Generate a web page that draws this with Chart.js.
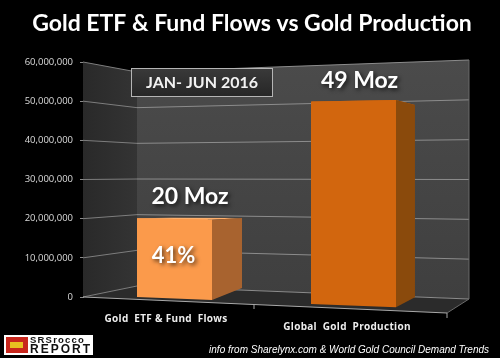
<!DOCTYPE html>
<html>
<head>
<meta charset="utf-8">
<script src="https://cdn.jsdelivr.net/npm/chart.js@4/dist/chart.umd.min.js"></script>
<style>
  html, body { margin: 0; padding: 0; background: #000; }
  canvas { display: block; }
</style>
</head>
<body>
<canvas id="goldChart" width="500" height="358"></canvas>
<script>
const categories = ['Gold  ETF & Fund  Flows', 'Global  Gold  Production'];
const ounces = [20000000, 49000000];
const barLabels = ['20 Moz', '49 Moz'];
const shareLabel = '41%';
const periodLabel = 'JAN- JUN 2016';
const chartTitle = 'Gold ETF & Fund Flows vs Gold Production';
const sourceNote = 'info from Sharelynx.com & World Gold Council Demand Trends';

const frontColors = ['#fb9a4b', '#d2660e'];
const sideColors = ['#a8632f', '#8a4a0c'];
const topColors = ['#ffb06c', '#c9630f'];
const barWidths = [75, 85];
const barShift = 2;

// the picture is a tilted 3D chart, these turn scale pixels into that view
const frontY = (x, f) => 297 + 0.04 * (x - 137) - f * (238.5 + (x - 174) * 0.069);
const rearY = (x, f) => 288 + (x - 242) * 0.0537 - f * (210 + (x - 242) * 0.147);
const depth = x => 30 - (x - 212) * 0.06;
const wallLeftY = f => 286 - f * 214;
const wallRightY = f => 299 - f * 239;

function poly(ctx, pts, fill) {
  ctx.beginPath();
  pts.forEach((p, i) => i ? ctx.lineTo(p[0], p[1]) : ctx.moveTo(p[0], p[1]));
  ctx.closePath();
  ctx.fillStyle = fill;
  ctx.fill();
}

function line(ctx, a, b, color, width) {
  ctx.beginPath();
  ctx.moveTo(a[0], a[1]);
  ctx.lineTo(b[0], b[1]);
  ctx.strokeStyle = color;
  ctx.lineWidth = width || 1;
  ctx.stroke();
}

function shadowText(ctx, text, x, y, font) {
  ctx.save();
  ctx.font = font;
  ctx.fillStyle = '#fff';
  ctx.textAlign = 'center';
  ctx.textBaseline = 'middle';
  ctx.shadowColor = 'rgba(0,0,0,0.7)';
  ctx.shadowBlur = 4;
  ctx.shadowOffsetX = 2;
  ctx.shadowOffsetY = 2;
  ctx.fillText(text, x, y);
  ctx.restore();
}

const wallsPlugin = {
  id: 'walls',
  beforeDatasetsDraw(chart) {
    const { ctx, scales: { y } } = chart;
    const span = y.bottom - y.top;
    const frac = v => (y.bottom - y.getPixelForValue(v)) / span;
    const left = y.right;

    ctx.save();
    const side = ctx.createLinearGradient(left, 0, 137, 0);
    side.addColorStop(0, '#292929');
    side.addColorStop(1, '#343434');
    poly(ctx, [[left, y.top], [137, wallLeftY(1)], [137, wallLeftY(0)], [left, y.bottom]], side);

    const back = ctx.createLinearGradient(0, 60, 0, 299);
    back.addColorStop(0, '#4b4b4b');
    back.addColorStop(1, '#3f3f3f');
    poly(ctx, [[137, wallLeftY(1)], [469, wallRightY(1)], [469, wallRightY(0)], [137, wallLeftY(0)]], back);

    poly(ctx, [[left, y.bottom], [137, wallLeftY(0)], [469, wallRightY(0)], [447, 313]], '#2b2b2b');

    y.ticks.forEach(t => {
      const f = frac(t.value);
      line(ctx, [left, y.getPixelForValue(t.value)], [137, wallLeftY(f)], '#7d7d7d');
      line(ctx, [137, wallLeftY(f)], [469, wallRightY(f)], '#8c8c8c');
    });
    line(ctx, [469, wallRightY(1)], [469, wallRightY(0)], '#6a6a6a');
    line(ctx, [469, wallRightY(0)], [447, 313], '#6a6a6a');
    line(ctx, [left, y.bottom], [447, 313], '#a8a8a8');
    line(ctx, [254, 305], [254, 309], '#a8a8a8');
    line(ctx, [447, 313], [447, 318], '#a8a8a8');
    ctx.restore();
  },
  afterDatasetsDraw(chart) {
    const { ctx, scales: { x, y } } = chart;
    const meta = chart.getDatasetMeta(0);
    const span = y.bottom - y.top;

    ctx.save();
    meta.data.forEach((bar, i) => {
      const f = (y.bottom - bar.y) / span;
      const xl = bar.x + barShift - barWidths[i] / 2;
      const xr = bar.x + barShift + barWidths[i] / 2;
      const xlBack = xl + depth(xl);
      const xrBack = xr + depth(xr);

      poly(ctx, [[xl, frontY(xl, f)], [xr, frontY(xr, f)], [xrBack, rearY(xrBack, f)], [xlBack, rearY(xlBack, f)]], topColors[i]);
      poly(ctx, [[xr, frontY(xr, f)], [xrBack, rearY(xrBack, f)], [xrBack, rearY(xrBack, 0)], [xr, frontY(xr, 0)]], sideColors[i]);
      poly(ctx, [[xl, frontY(xl, f)], [xr, frontY(xr, f)], [xr, frontY(xr, 0)], [xl, frontY(xl, 0)]], frontColors[i]);
    });

    // value captions sit above each box, the share inside the first one
    shadowText(ctx, barLabels[0], meta.data[0].x + 17.5, meta.data[0].y - 22, 'bold 23px Lato');
    shadowText(ctx, barLabels[1], meta.data[1].x + 8, meta.data[1].y - 25, 'bold 23px Lato');
    shadowText(ctx, shareLabel, meta.data[0].x + 1, 256, 'bold 22px Lato');

    // category names follow the tilted floor
    ctx.font = 'bold 10px "Open Sans"';
    ctx.fillStyle = '#eee';
    ctx.textAlign = 'center';
    ctx.textBaseline = 'middle';
    ctx.letterSpacing = '0.3px';
    ctx.fillText(categories[0], x.getPixelForValue(0) - 6.5, 319);
    ctx.fillText(categories[1], x.getPixelForValue(1) - 4.5, 327.5);
    ctx.letterSpacing = '0px';

    // period box
    const box = ctx.createLinearGradient(0, 68, 0, 97);
    box.addColorStop(0, '#3a3a3a');
    box.addColorStop(1, '#262626');
    ctx.fillStyle = box;
    ctx.fillRect(131.5, 68.5, 141, 28);
    ctx.strokeStyle = '#b5b5b5';
    ctx.lineWidth = 1;
    ctx.strokeRect(131.5, 68.5, 141, 28);
    ctx.font = 'bold 16px Lato';
    ctx.fillStyle = '#f2f2f2';
    ctx.fillText(periodLabel, 202, 83);

    // source note
    ctx.font = 'italic 10px "Liberation Sans"';
    ctx.fillStyle = '#fff';
    ctx.textAlign = 'right';
    ctx.fillText(sourceNote, 489, 350);

    // logo
    ctx.fillStyle = '#fff';
    ctx.fillRect(4, 335, 89, 20);
    ctx.fillStyle = '#c8261c';
    ctx.fillRect(6, 337, 22, 16);
    ctx.fillStyle = '#e8c020';
    ctx.fillRect(10, 342, 13, 6);
    ctx.fillStyle = '#111';
    ctx.textAlign = 'left';
    ctx.font = 'bold 9.5px "Liberation Sans"';
    ctx.letterSpacing = '1.2px';
    ctx.fillText('SRSrocco', 30, 340);
    ctx.font = 'bold 12px "Liberation Sans"';
    ctx.letterSpacing = '2px';
    ctx.fillText('REPORT', 30, 349.5);
    ctx.letterSpacing = '0px';
    ctx.restore();
  }
};

new Chart(document.getElementById('goldChart'), {
  type: 'bar',
  data: {
    labels: categories,
    datasets: [{
      data: ounces,
      backgroundColor: frontColors,
      barThickness: 70
    }]
  },
  options: {
    responsive: false,
    animation: false,
    layout: { padding: { left: 4, right: 0, top: 0, bottom: 61 } },
    plugins: {
      legend: { display: false },
      tooltip: { enabled: false },
      title: {
        display: true,
        text: chartTitle,
        color: '#fff',
        font: { family: 'Lato', size: 23, weight: 'bold', lineHeight: 1.2 },
        padding: { top: 10, bottom: 24.4 }
      }
    },
    scales: {
      x: {
        grid: { display: false },
        border: { display: false },
        ticks: { display: false },
        afterFit: s => { s.height = 0; }
      },
      y: {
        min: 0,
        max: 60000000,
        afterFit: s => { s.width = 79; },
        grid: { drawOnChartArea: false, color: '#8a8a8a', tickLength: 3 },
        border: { color: '#8a8a8a' },
        ticks: {
          stepSize: 10000000,
          color: '#dcdcdc',
          padding: 7,
          font: { family: 'Open Sans', size: 9.5 },
          callback: v => v.toLocaleString('en-US')
        }
      },
      // empty axis, only holds the strip right of the plot so the title stays centred
      spacer: {
        position: 'right',
        grid: { display: false },
        border: { display: false },
        ticks: { display: false },
        afterFit: s => { s.width = 59; }
      }
    }
  },
  plugins: [wallsPlugin]
});
</script>
</body>
</html>
